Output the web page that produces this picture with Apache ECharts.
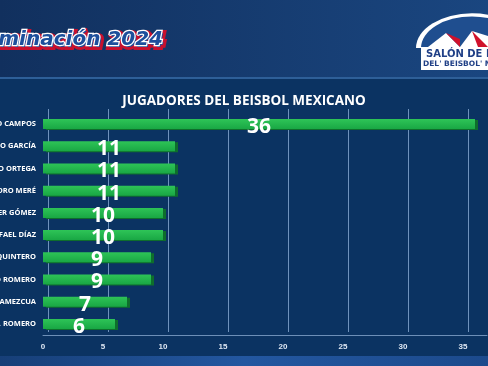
<!DOCTYPE html>
<html><head><meta charset="utf-8">
<script src="https://cdn.jsdelivr.net/npm/echarts@6/dist/echarts.min.js"></script>
<style>html,body{margin:0;padding:0;background:#0c3262}#c{width:488px;height:366px}</style>
</head><body><div id="c"></div>
<script>
const categories = ["O CAMPOS","SO GARCÍA","LO ORTEGA","DRO MERÉ","ER GÓMEZ","AFAEL DÍAZ","QUINTERO","O ROMERO","AMEZCUA","A. ROMERO"];
const values = [36,11,11,11,10,10,9,9,7,6];
const xTicks = [0,5,10,15,20,25,30,35];
const chartTitle = "JUGADORES DEL BEISBOL MEXICANO";
const headerText = "minación 2024";

const chart = echarts.init(document.getElementById('c'), null, {renderer:'canvas'});
const cats = categories.slice().reverse();
const vals = values.slice().reverse();
const headerFont = 'italic bold 20px "DejaVu Sans"';
const option = {
  backgroundColor: '#0c3262',
  animation: false,
  title: {text: chartTitle, left: 'center', top: 89,
    textStyle: {color:'#ffffff', fontSize:13.5, fontWeight:'bold', fontFamily:'Open Sans'}},
  graphic: [
    {type:'rect', z:-10, shape:{x:0,y:0,width:488,height:77},
     style:{fill:new echarts.graphic.LinearGradient(0,0,1,0,[{offset:0,color:'#11305e'},{offset:1,color:'#1a4680'}])}},
    {type:'rect', z:-9, shape:{x:0,y:77,width:488,height:2}, style:{fill:'#2e5f98'}},
    {type:'rect', z:-9, shape:{x:0,y:79,width:488,height:277}, style:{fill:'#0b3362'}},
    {type:'rect', z:-9, shape:{x:0,y:356,width:488,height:10},
     style:{fill:new echarts.graphic.LinearGradient(0,0,1,0,[{offset:0,color:'#173f78'},{offset:0.5,color:'#2357a0'},{offset:1,color:'#1c4a8c'}])}},
    {type:'text', z:5, left:-3, top:29, style:{text:headerText, fill:'#1d4f9c', stroke:'#c8102e', lineWidth:6, font:headerFont}},
    {type:'text', z:6, left:-3, top:29, style:{text:headerText, fill:'#1d4f9c', stroke:'#ffffff', lineWidth:2.5, font:headerFont}},
    {type:'group', z:5, children:[
      {type:'sector', shape:{cx:472,cy:48,r:56,r0:0,startAngle:Math.PI,endAngle:2*Math.PI}, scaleY:0.62, originY:48, style:{fill:'#ffffff'}},
      {type:'sector', shape:{cx:472,cy:48,r:51,r0:0,startAngle:Math.PI,endAngle:2*Math.PI}, scaleY:0.62, originY:48, style:{fill:'#1f4e8f'}},
      {type:'polygon', shape:{points:[[428,47],[446,33],[460,47]]}, style:{fill:'#ffffff'}},
      {type:'polygon', shape:{points:[[460,47],[472,31],[488,36],[488,47]]}, style:{fill:'#ffffff'}},
      {type:'polygon', shape:{points:[[446,33],[460,47],[460,39]]}, style:{fill:'#d0112b'}},
      {type:'polygon', shape:{points:[[472,31],[488,47],[478,47]]}, style:{fill:'#d0112b'}},
      {type:'rect', shape:{x:421,y:47,width:67,height:23}, style:{fill:'#ffffff'}},
      {type:'text', left:426, top:49, style:{text:'SALÓN DE L', fill:'#1f3f86', font:'bold 10px "DejaVu Sans"'}},
      {type:'text', left:423, top:60, style:{text:"DEL' BEISBOL' M", fill:'#1f3f86', font:'bold 7.5px "DejaVu Sans"'}}
    ]}
  ],
  grid: [
    {left:43, width:444, top:113, height:222, outerBoundsMode:'none', containLabel:false},
    {left:48, width:444, top:109, height:223, outerBoundsMode:'none', containLabel:false}
  ],
  xAxis: [
    {gridIndex:0, type:'value', min:0, max:37, interval:5,
     axisLine:{show:true, lineStyle:{color:'#6d8fb8', width:1}},
     axisTick:{show:false}, splitLine:{show:false},
     axisLabel:{color:'#dfe8f4', fontSize:8, fontWeight:'bold', margin:8, showMaxLabel:false,
       formatter:v=> xTicks.indexOf(v)>=0 ? String(v) : ''}},
    {gridIndex:1, type:'value', min:0, max:37, interval:5,
     axisLine:{show:false}, axisTick:{show:false}, axisLabel:{show:false},
     splitLine:{show:true, lineStyle:{color:'#6f92bc', width:1}}}
  ],
  yAxis: [
    {gridIndex:0, type:'category', data:cats,
     axisLine:{show:false}, axisTick:{show:false},
     axisLabel:{color:'#ffffff', fontSize:7.5, fontWeight:'bold', margin:7, fontFamily:'Open Sans'}},
    {gridIndex:1, type:'category', data:cats, show:false}
  ],
  series: [{
    type:'bar', xAxisIndex:0, yAxisIndex:0, data:vals, barWidth:10,
    itemStyle:{color:new echarts.graphic.LinearGradient(0,0,0,1,[{offset:0,color:'#2ec457'},{offset:1,color:'#19a744'}]),
      shadowColor:'#0e6e2c', shadowOffsetX:3, shadowOffsetY:1},
    label:{show:true, position:'inside', offset:[0,3], color:'#ffffff', fontSize:21, fontWeight:'bold', fontFamily:'Open Sans'}
  }]
};
chart.setOption(option);
</script></body></html>
